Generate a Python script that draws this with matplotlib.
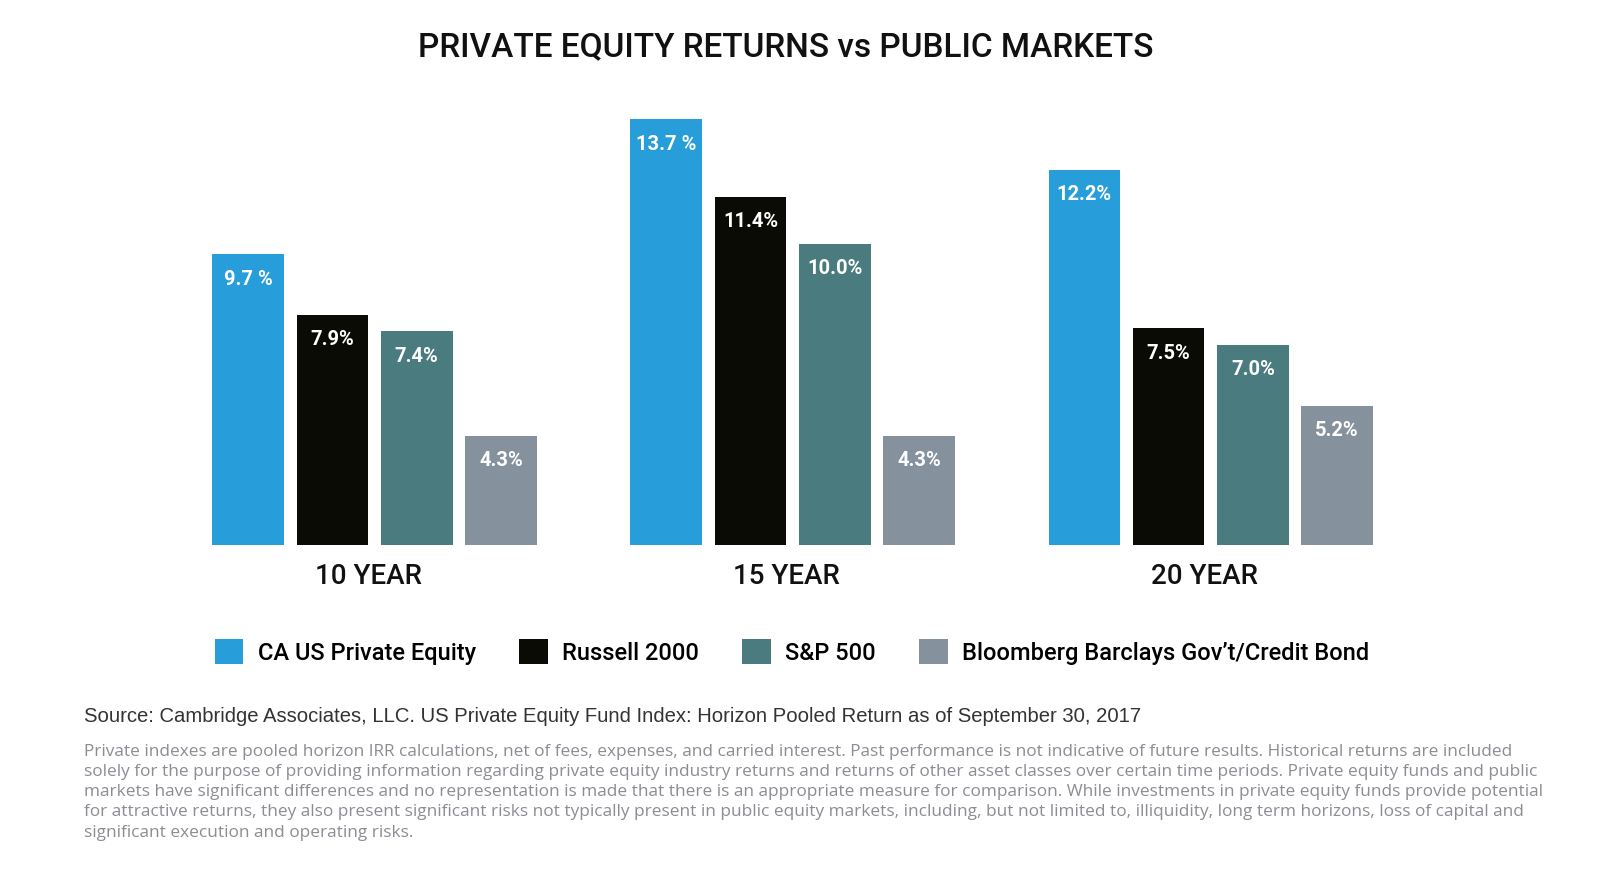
import matplotlib
matplotlib.use("Agg")
import matplotlib.pyplot as plt
from matplotlib.patches import Patch
import numpy as np

# ---- data ----
periods = ["10 YEAR", "15 YEAR", "20 YEAR"]
series = ["CA US Private Equity", "Russell 2000", "S&P 500",
          "Bloomberg Barclays Gov\u2019t/Credit Bond"]
ca_us_pe = [9.7, 13.7, 12.2]
russell_2000 = [7.9, 11.4, 7.5]
sp_500 = [7.4, 10.0, 7.0]
bbg_bond = [4.3, 4.3, 5.2]
value_labels = [
    ["9.7 %", "13.7 %", "12.2%"],
    ["7.9%", "11.4%", "7.5%"],
    ["7.4%", "10.0%", "7.0%"],
    ["4.3%", "4.3%", "5.2%"],
]
colors = ["#279ed9", "#0b0b06", "#4a7b7e", "#86919e"]

title = "PRIVATE EQUITY RETURNS vs PUBLIC MARKETS"
source = ("Source: Cambridge Associates, LLC. US Private Equity Fund Index: "
          "Horizon Pooled Return as of September 30, 2017")
disclaimer_lines = [
    "Private indexes are pooled horizon IRR calculations, net of fees, expenses, and carried interest. "
    "Past performance is not indicative of future results. Historical returns are included",
    "solely for the purpose of providing information regarding private equity industry returns and "
    "returns of other asset classes over certain time periods. Private equity funds and public",
    "markets have significant differences and no representation is made that there is an appropriate "
    "measure for comparison. While investments in private equity funds provide potential",
    "for attractive returns, they also present significant risks not typically present in public "
    "equity markets, including, but not limited to, illiquidity, long term horizons, loss of capital and",
    "significant execution and operating risks.",
]

NARROW = ["Roboto", "DejaVu Sans"]

W, H = 1600, 869
fig = plt.figure(figsize=(W / 100, H / 100), dpi=100)

# axes spanning full width; baseline at y=545px, top at y=100px
ax = fig.add_axes([0, 1 - 545 / H, 1, (545 - 100) / H])
ax.set_xlim(-4.443, 14.537)
ax.set_ylim(1.055, 14.279)
ax.axis("off")

all_series = [ca_us_pe, russell_2000, sp_500, bbg_bond]
group_centers = np.arange(len(periods)) * 4.96
width = 0.85
for i, (vals, col) in enumerate(zip(all_series, colors)):
    xs = group_centers + (i - 1.5)
    bars = ax.bar(xs, vals, width=width, color=col, bottom=0, zorder=2)
    for b, lab in zip(bars, value_labels[i]):
        ax.annotate(lab, (b.get_x() + b.get_width() / 2, b.get_height()),
                    xytext=(0, -18), textcoords="offset points",
                    ha="center", va="center", color="white",
                    fontsize=14.5, fontweight="bold", family=NARROW)

for gc, p in zip(group_centers, periods):
    ax.annotate(p, (gc - 0.07, 1.055), xytext=(0, -23), textcoords="offset points",
                ha="center", va="center", fontsize=20, color="#111111",
                fontweight="medium", family=NARROW, annotation_clip=False)

fig.text(786 / W, 1 - 47 / H, title, ha="center", va="center",
         fontsize=24, color="#111111", fontweight="medium", family=NARROW)

handles = [Patch(facecolor=c, edgecolor="none") for c in colors]
fig.legend(handles, series, loc="center", bbox_to_anchor=(792 / W, 1 - 652 / H),
           ncol=4, frameon=False,
           prop={"family": NARROW, "size": 17, "weight": "medium"},
           handlelength=1.2, handleheight=1.2, handletextpad=0.6,
           columnspacing=1.85)

fig.text(84 / W, 1 - 717 / H, source, ha="left", va="center",
         fontsize=14.6, color="#333333",
         family=["Liberation Sans", "DejaVu Sans"])
for k, line in enumerate(disclaimer_lines):
    fig.text(84 / W, 1 - (752 + k * 20.15) / H, line, ha="left", va="center",
             fontsize=12.4, color="#8c8c94", family=["Open Sans", "DejaVu Sans"])

fig.savefig("out.png", dpi=100, facecolor="white")
